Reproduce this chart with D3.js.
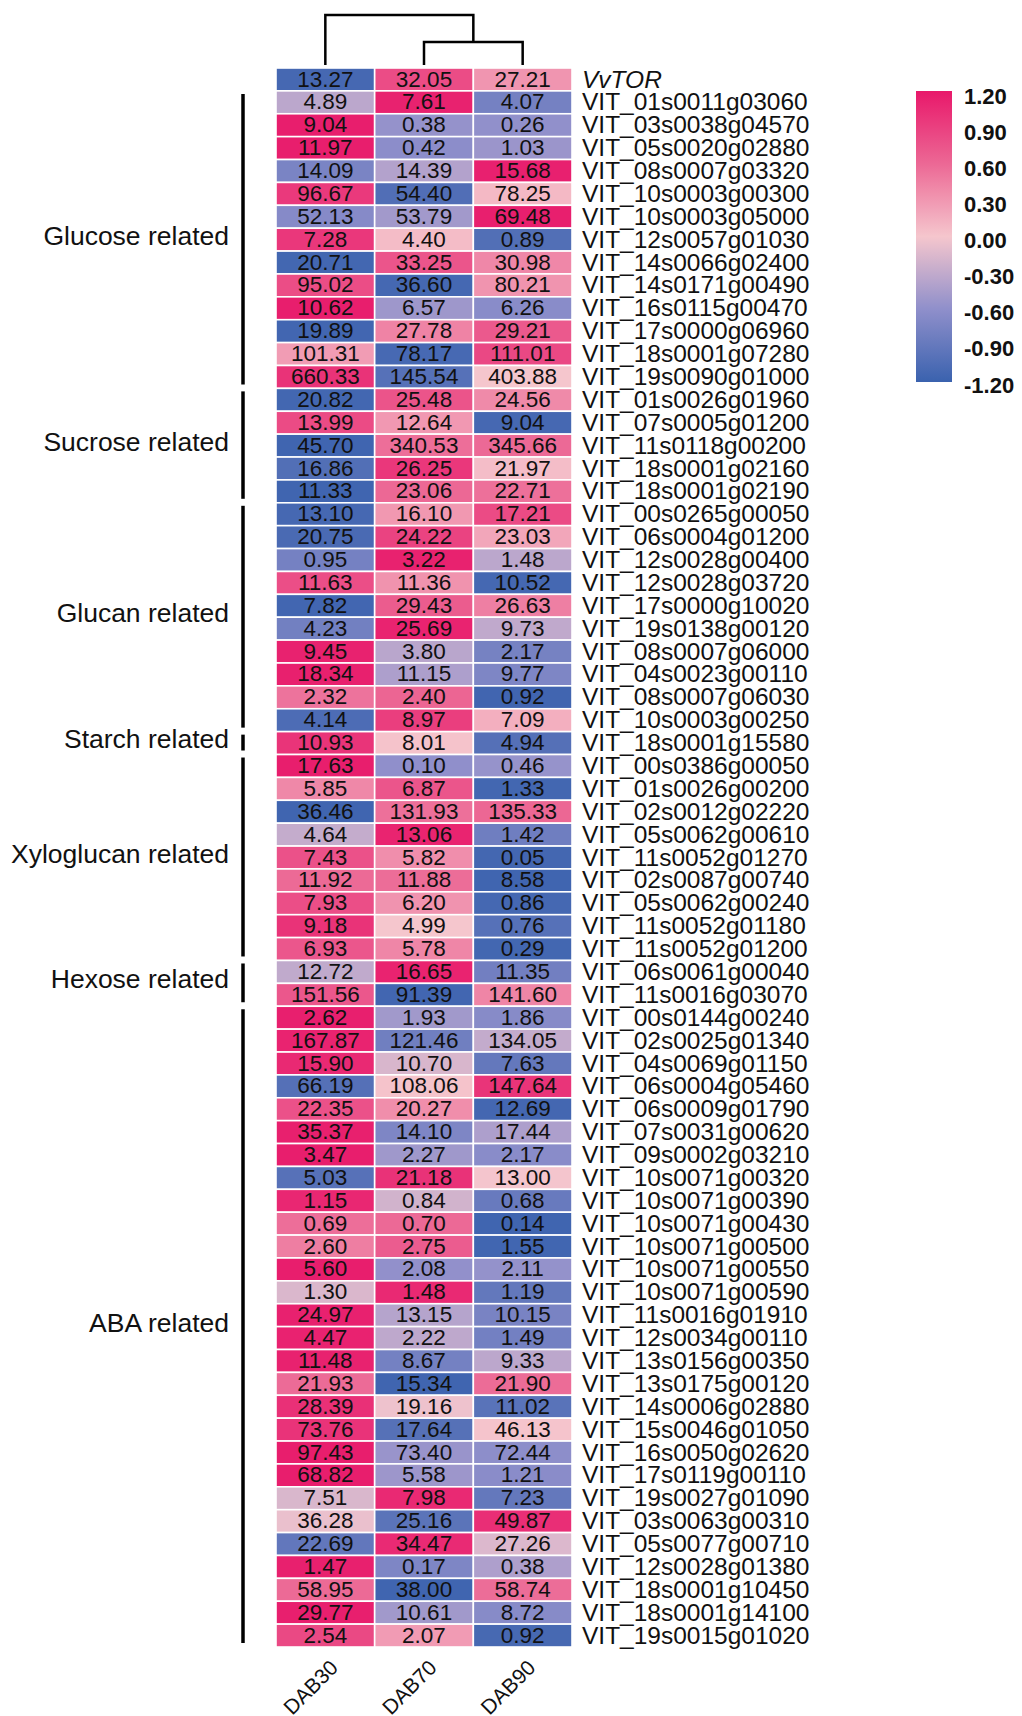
<!DOCTYPE html>
<html>
<head>
<meta charset="utf-8">
<script src="https://cdn.jsdelivr.net/npm/d3@7"></script>
<style>
  html, body { margin: 0; padding: 0; background: #fff; }
  svg { display: block; font-family: "Liberation Sans", Arial, sans-serif; }
</style>
</head>
<body>
<div id="chart"></div>
<script>
// ---- data ----
const samples = ['DAB30', 'DAB70', 'DAB90'];

const genes = [
  'VvTOR',
  'VIT_01s0011g03060', 'VIT_03s0038g04570', 'VIT_05s0020g02880', 'VIT_08s0007g03320', 'VIT_10s0003g00300',
  'VIT_10s0003g05000', 'VIT_12s0057g01030', 'VIT_14s0066g02400', 'VIT_14s0171g00490', 'VIT_16s0115g00470',
  'VIT_17s0000g06960', 'VIT_18s0001g07280', 'VIT_19s0090g01000',
  'VIT_01s0026g01960', 'VIT_07s0005g01200', 'VIT_11s0118g00200', 'VIT_18s0001g02160', 'VIT_18s0001g02190',
  'VIT_00s0265g00050', 'VIT_06s0004g01200', 'VIT_12s0028g00400', 'VIT_12s0028g03720', 'VIT_17s0000g10020',
  'VIT_19s0138g00120', 'VIT_08s0007g06000', 'VIT_04s0023g00110', 'VIT_08s0007g06030', 'VIT_10s0003g00250',
  'VIT_18s0001g15580',
  'VIT_00s0386g00050', 'VIT_01s0026g00200', 'VIT_02s0012g02220', 'VIT_05s0062g00610', 'VIT_11s0052g01270',
  'VIT_02s0087g00740', 'VIT_05s0062g00240', 'VIT_11s0052g01180', 'VIT_11s0052g01200',
  'VIT_06s0061g00040', 'VIT_11s0016g03070',
  'VIT_00s0144g00240', 'VIT_02s0025g01340', 'VIT_04s0069g01150', 'VIT_06s0004g05460', 'VIT_06s0009g01790',
  'VIT_07s0031g00620', 'VIT_09s0002g03210', 'VIT_10s0071g00320', 'VIT_10s0071g00390', 'VIT_10s0071g00430',
  'VIT_10s0071g00500', 'VIT_10s0071g00550', 'VIT_10s0071g00590', 'VIT_11s0016g01910', 'VIT_12s0034g00110',
  'VIT_13s0156g00350', 'VIT_13s0175g00120', 'VIT_14s0006g02880', 'VIT_15s0046g01050', 'VIT_16s0050g02620',
  'VIT_17s0119g00110', 'VIT_19s0027g01090', 'VIT_03s0063g00310', 'VIT_05s0077g00710', 'VIT_12s0028g01380',
  'VIT_18s0001g10450', 'VIT_18s0001g14100', 'VIT_19s0015g01020'
];

const dab30 = [
  13.27,
  4.89, 9.04, 11.97, 14.09, 96.67, 52.13, 7.28, 20.71, 95.02, 10.62, 19.89, 101.31, 660.33,
  20.82, 13.99, 45.70, 16.86, 11.33,
  13.10, 20.75, 0.95, 11.63, 7.82, 4.23, 9.45, 18.34, 2.32, 4.14,
  10.93,
  17.63, 5.85, 36.46, 4.64, 7.43, 11.92, 7.93, 9.18, 6.93,
  12.72, 151.56,
  2.62, 167.87, 15.90, 66.19, 22.35, 35.37, 3.47, 5.03, 1.15, 0.69, 2.60, 5.60, 1.30, 24.97,
  4.47, 11.48, 21.93, 28.39, 73.76, 97.43, 68.82, 7.51, 36.28, 22.69, 1.47, 58.95, 29.77, 2.54
];
const dab70 = [
  32.05,
  7.61, 0.38, 0.42, 14.39, 54.40, 53.79, 4.40, 33.25, 36.60, 6.57, 27.78, 78.17, 145.54,
  25.48, 12.64, 340.53, 26.25, 23.06,
  16.10, 24.22, 3.22, 11.36, 29.43, 25.69, 3.80, 11.15, 2.40, 8.97,
  8.01,
  0.10, 6.87, 131.93, 13.06, 5.82, 11.88, 6.20, 4.99, 5.78,
  16.65, 91.39,
  1.93, 121.46, 10.70, 108.06, 20.27, 14.10, 2.27, 21.18, 0.84, 0.70, 2.75, 2.08, 1.48, 13.15,
  2.22, 8.67, 15.34, 19.16, 17.64, 73.40, 5.58, 7.98, 25.16, 34.47, 0.17, 38.00, 10.61, 2.07
];
const dab90 = [
  27.21,
  4.07, 0.26, 1.03, 15.68, 78.25, 69.48, 0.89, 30.98, 80.21, 6.26, 29.21, 111.01, 403.88,
  24.56, 9.04, 345.66, 21.97, 22.71,
  17.21, 23.03, 1.48, 10.52, 26.63, 9.73, 2.17, 9.77, 0.92, 7.09,
  4.94,
  0.46, 1.33, 135.33, 1.42, 0.05, 8.58, 0.86, 0.76, 0.29,
  11.35, 141.60,
  1.86, 134.05, 7.63, 147.64, 12.69, 17.44, 2.17, 13.00, 0.68, 0.14, 1.55, 2.11, 1.19, 10.15,
  1.49, 9.33, 21.90, 11.02, 46.13, 72.44, 1.21, 7.23, 49.87, 27.26, 0.38, 58.74, 8.72, 0.92
];

const groupNames = ['Glucose related', 'Sucrose related', 'Glucan related', 'Starch related',
                    'Xyloglucan related', 'Hexose related', 'ABA related'];
const groupSizes = [13, 5, 10, 1, 9, 2, 28];
const groupStart = 1; // first row (VvTOR) has no group

const legendTicks = [1.20, 0.90, 0.60, 0.30, 0.00, -0.30, -0.60, -0.90, -1.20];

// column dendrogram: DAB70+DAB90 merge first, then DAB30
const mergeHeights = [0.99, 2.15];

// ---- layout ----
const W = 1022, H = 1716;
const heat = { left: 276, right: 572, top: 68, bottom: 1647 };

const svg = d3.select('#chart').append('svg')
  .attr('width', W)
  .attr('height', H);

const x = d3.scaleBand()
  .domain(samples)
  .range([heat.left, heat.right]);

const y = d3.scaleBand()
  .domain(genes)
  .range([heat.top, heat.bottom]);

const color = d3.scaleLinear()
  .domain([-1.2, -0.6, 0, 0.6, 1.2])
  .range(['#3a62ae', '#8f8fcb', '#f5c6cd', '#ec6895', '#e8186a'])
  .clamp(true);

// rows with row-wise z-score (sample sd) for colouring
const rows = genes.map((g, i) => {
  const vals = [dab30[i], dab70[i], dab90[i]];
  const m = d3.mean(vals), sd = d3.deviation(vals) || 1;
  return { gene: g, cells: samples.map((s, j) => ({ gene: g, sample: s, v: vals[j], z: (vals[j] - m) / sd })) };
});

// ---- cells ----
const cellG = svg.append('g');
cellG.selectAll('rect')
  .data(rows.flatMap(r => r.cells))
  .join('rect')
    .attr('x', d => x(d.sample))
    .attr('y', d => y(d.gene))
    .attr('width', x.bandwidth())
    .attr('height', y.bandwidth())
    .attr('fill', d => color(d.z))
    .attr('stroke', '#fff')
    .attr('stroke-width', 1.6);

cellG.selectAll('text')
  .data(rows.flatMap(r => r.cells))
  .join('text')
    .attr('x', d => x(d.sample) + x.bandwidth() / 2)
    .attr('y', d => y(d.gene) + 18.5)
    .attr('text-anchor', 'middle')
    .style('font-size', '22.5px')
    .style('fill', '#111')
    .text(d => d.v.toFixed(2));

// ---- row labels ----
svg.append('g').selectAll('text')
  .data(genes)
  .join('text')
    .attr('x', heat.right + 10)
    .attr('y', d => y(d) + 19.5)
    .style('font-size', '24.5px')
    .style('font-style', d => d === 'VvTOR' ? 'italic' : 'normal')
    .style('fill', '#111')
    .text(d => d);

// ---- group brackets + labels ----
let start = groupStart;
const groups = groupNames.map((name, i) => {
  const g = { name, first: genes[start], last: genes[start + groupSizes[i] - 1] };
  start += groupSizes[i];
  return g;
});

const brG = svg.append('g');
brG.selectAll('line')
  .data(groups)
  .join('line')
    .attr('x1', 243).attr('x2', 243)
    .attr('y1', d => y(d.first) + 3)
    .attr('y2', d => y(d.last) + y.bandwidth() - 4)
    .attr('stroke', '#000')
    .attr('stroke-width', 3.5);

brG.selectAll('text')
  .data(groups)
  .join('text')
    .attr('x', 229)
    .attr('y', d => (y(d.first) + y(d.last) + y.bandwidth()) / 2 + 5)
    .attr('text-anchor', 'end')
    .style('font-size', '26.5px')
    .style('fill', '#111')
    .text(d => d.name);

// ---- column labels ----
svg.append('g').selectAll('text')
  .data(samples)
  .join('text')
    .attr('transform', d => `translate(${x(d) + x.bandwidth() / 2 + 14},${1669}) rotate(-45)`)
    .attr('text-anchor', 'end')
    .style('font-size', '21px')
    .style('fill', '#111')
    .text(d => d);

// ---- dendrogram ----
const hy = d3.scaleLinear().domain([0, mergeHeights[1]]).range([65, 15]);
const cx = s => x(s) + x.bandwidth() / 2;
const inner = (cx('DAB70') + cx('DAB90')) / 2;
const dendro = [
  [[cx('DAB70'), hy(0)], [cx('DAB70'), hy(mergeHeights[0])], [cx('DAB90'), hy(mergeHeights[0])], [cx('DAB90'), hy(0)]],
  [[cx('DAB30'), hy(0)], [cx('DAB30'), hy(mergeHeights[1])], [inner, hy(mergeHeights[1])], [inner, hy(mergeHeights[0])]]
];
svg.append('g').selectAll('path')
  .data(dendro)
  .join('path')
    .attr('d', d3.line())
    .attr('fill', 'none')
    .attr('stroke', '#000')
    .attr('stroke-width', 2.5);

// ---- legend ----
const lg = { x: 916, w: 36, top: 91, bottom: 382 };
const defs = svg.append('defs');
const grad = defs.append('linearGradient')
  .attr('id', 'lgGrad')
  .attr('x1', 0).attr('y1', 0).attr('x2', 0).attr('y2', 1);
d3.range(0, 1.0001, 0.05).forEach(t => {
  grad.append('stop')
    .attr('offset', t)
    .attr('stop-color', color(1.2 - 2.4 * t));
});
svg.append('rect')
  .attr('x', lg.x).attr('y', lg.top)
  .attr('width', lg.w).attr('height', lg.bottom - lg.top)
  .attr('fill', 'url(#lgGrad)');

const ly = d3.scaleLinear().domain([1.2, -1.2]).range([96, 385]);
svg.append('g').selectAll('text')
  .data(legendTicks)
  .join('text')
    .attr('x', 964)
    .attr('y', d => ly(d) + 7.5)
    .style('font-size', '22px')
    .style('font-weight', 'bold')
    .style('fill', '#111')
    .text(d => d.toFixed(2));
</script>
</body>
</html>
